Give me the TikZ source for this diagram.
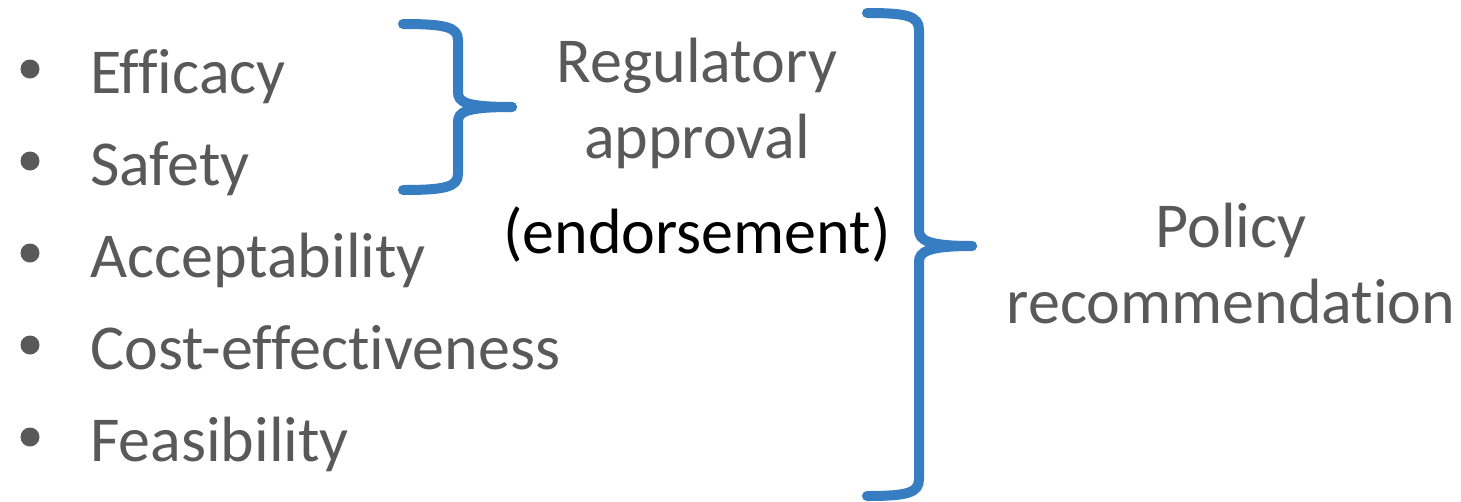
\documentclass[tikz,border=0pt]{standalone}
\usepackage{fontspec}
\setmainfont[Ligatures=CommonOff]{Carlito}
\usetikzlibrary{positioning}
\definecolor{txtgray}{RGB}{89,89,89}
\definecolor{braceblue}{RGB}{55,125,193}
\tikzset{item/.style={anchor=base west, inner sep=0pt, text=txtgray, font=\fontsize{64}{64}\selectfont}}
\tikzset{dot/.style={circle, fill=txtgray, inner sep=0pt, minimum size=19pt}}
\tikzset{lbl/.style={inner sep=0pt, align=center, text=txtgray, font=\fontsize{64}{76}\selectfont}}
\tikzset{brace/.style={draw=braceblue, line width=10pt, line cap=round}}

\begin{document}
\begin{tikzpicture}[x=1pt, y=-1pt]
    \useasboundingbox (0,0) rectangle (1461,501);
    % criteria list
    \foreach \name/\txt/\yb in {eff/Efficacy/93, saf/Safety/185, acc/Acceptability/277,
        cost/Cost-effectiveness/369, feas/Feasibility/461} {
        \node[item] (\name) at (90,\yb) {\txt};
        \node[dot] (\name-dot) at (30,\yb-24) {};
    }
    % labels
    \node[lbl] (reg) at (697,103) {Regulatory\\approval};
    \node[lbl, text=black, anchor=base] (endo) at (697,253) {(endorsement)};
    \node[lbl] (pol) at (1231,264) {Policy\\recommendation};
    % small brace
    \coordinate (sb-top) at (403,24);
    \coordinate (sb-tip) at (512,107);
    \coordinate (sb-bot) at (403,190);
    \draw[brace] (sb-top) .. controls (445,24) and (458,27) .. (458,40)
        -- (458,92) .. controls (458,102) and (465,107) .. (sb-tip);
    \draw[brace] (sb-bot) .. controls (445,190) and (458,187) .. (458,174)
        -- (458,122) .. controls (458,112) and (465,107) .. (sb-tip);
    % big brace
    \coordinate (bb-top) at (867,13);
    \coordinate (bb-tip) at (972,246);
    \coordinate (bb-bot) at (867,496);
    \draw[brace] (bb-top) .. controls (907,13) and (919,16) .. (919,30)
        -- (919,230) .. controls (919,240) and (927,246) .. (bb-tip);
    \draw[brace] (bb-bot) .. controls (907,496) and (919,493) .. (919,479)
        -- (919,262) .. controls (919,252) and (927,246) .. (bb-tip);
\end{tikzpicture}
\end{document}
